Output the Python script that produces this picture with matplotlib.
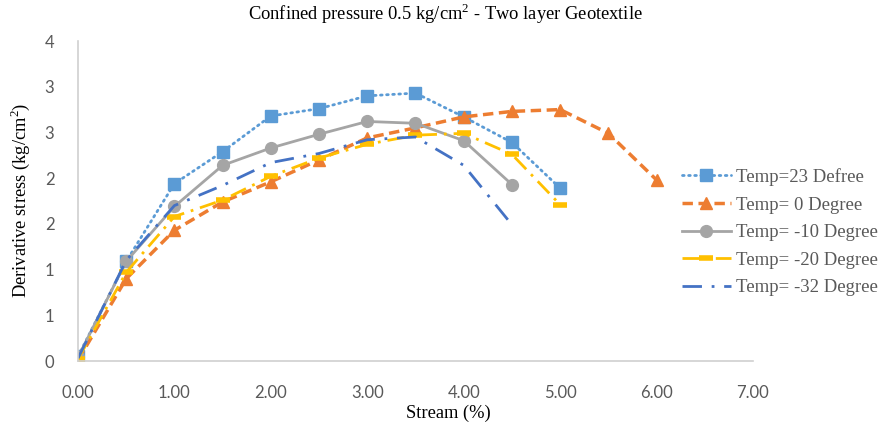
import numpy as np
import matplotlib
matplotlib.use("Agg")
import matplotlib.pyplot as plt

plt.rcParams["mathtext.fontset"] = "custom"
plt.rcParams["mathtext.rm"] = "Liberation Serif"

# readings
strain = [0.0, 0.5, 1.0, 1.5, 2.0, 2.5, 3.0, 3.5, 4.0, 4.5, 5.0, 5.5, 6.0]
t23 = [0.05, 1.09, 1.94, 2.29, 2.68, 2.76, 2.90, 2.93, 2.67, 2.39, 1.89]
t0 = [0.01, 0.90, 1.43, 1.74, 1.96, 2.20, 2.44, 2.55, 2.67, 2.73, 2.75, 2.49, 1.98]
t_10 = [0.04, 1.09, 1.69, 2.14, 2.33, 2.48, 2.62, 2.60, 2.41, 1.93]
t_20 = [0.02, 0.97, 1.58, 1.76, 2.02, 2.22, 2.37, 2.47, 2.49, 2.26, 1.71]
t_32 = [0.03, 1.10, 1.70, 1.92, 2.17, 2.27, 2.42, 2.45, 2.14, 1.49]

labels = ["Temp=23 Defree", "Temp= 0 Degree", "Temp= -10 Degree",
          "Temp= -20 Degree", "Temp= -32 Degree"]
yticks = [0, 0.5, 1.0, 1.5, 2.0, 2.5, 3.0, 3.5]
ytick_labels = ["0", "1", "1", "2", "2", "3", "3", "4"]
xticks = [0, 1, 2, 3, 4, 5, 6, 7]

SERIF = "Liberation Serif"
GREY = "#595959"

fig = plt.figure(figsize=(8.83, 4.28), dpi=100)
ax = fig.add_axes([78 / 883, 1 - 361 / 428, 675 / 883, 320 / 428])

ax.plot(strain[:len(t23)], t23, color="#5B9BD5", lw=2, linestyle=(0, (0.6, 1.6)),
        dash_capstyle="round", marker="s", markersize=9, label=labels[0])
ax.plot(strain[:len(t0)], t0, color="#ED7D31", lw=2.5, linestyle=(0, (3, 1.6)),
        marker="^", markersize=9, label=labels[1])
ax.plot(strain[:len(t_10)], t_10, color="#A5A5A5", lw=2, linestyle="-",
        marker="o", markersize=8.5, label=labels[2])
ax.plot(strain[:len(t_20)], t_20, color="#FFC000", lw=2, linestyle=(0, (6, 2.5, 1, 2.5)),
        marker="_", markersize=10, markeredgewidth=4, label=labels[3])
ax.plot(strain[:len(t_32)], t_32, color="#4472C4", lw=2, linestyle=(0, (7, 3.5, 1, 3.5)),
        label=labels[4])

ax.set_xlim(0, 7)
ax.set_ylim(0, 3.5)
ax.set_xticks(xticks)
ax.set_xticklabels([f"{v:.2f}" for v in xticks])
ax.set_yticks(yticks)
ax.set_yticklabels(ytick_labels)
ax.tick_params(length=0, labelsize=12, labelcolor=GREY)
ax.tick_params(axis="x", pad=17)
ax.tick_params(axis="y", pad=17)
for lab in ax.get_xticklabels() + ax.get_yticklabels():
    lab.set_family("Lato")

for s in ["top", "right"]:
    ax.spines[s].set_visible(False)
for s in ["left", "bottom"]:
    ax.spines[s].set_color("#D0D0D0")
    ax.spines[s].set_linewidth(1.2)

fig.text(445 / 883, 1 - 14 / 428, "Confined pressure 0.5 kg/cm$^2$ - Two layer Geotextile",
         ha="center", va="center", family=SERIF, fontsize=13.3)
fig.text(448 / 883, 1 - 413 / 428, "Stream (%)", ha="center", va="center",
         family=SERIF, fontsize=13.3)
fig.text(20 / 883, 1 - 200 / 428, "Derivative stress (kg/cm$^2$)", ha="center",
         va="center", rotation=90, family=SERIF, fontsize=13.3)

leg = fig.legend(loc="upper left", bbox_to_anchor=(682 / 883, 1 - 168 / 428),
                 frameon=False, borderpad=0, borderaxespad=0, handlelength=2.6,
                 handletextpad=0.3, labelspacing=0.56,
                 prop={"family": SERIF, "size": 13.5})
for t in leg.get_texts():
    t.set_color(GREY)

fig.savefig("out.png", dpi=100)
